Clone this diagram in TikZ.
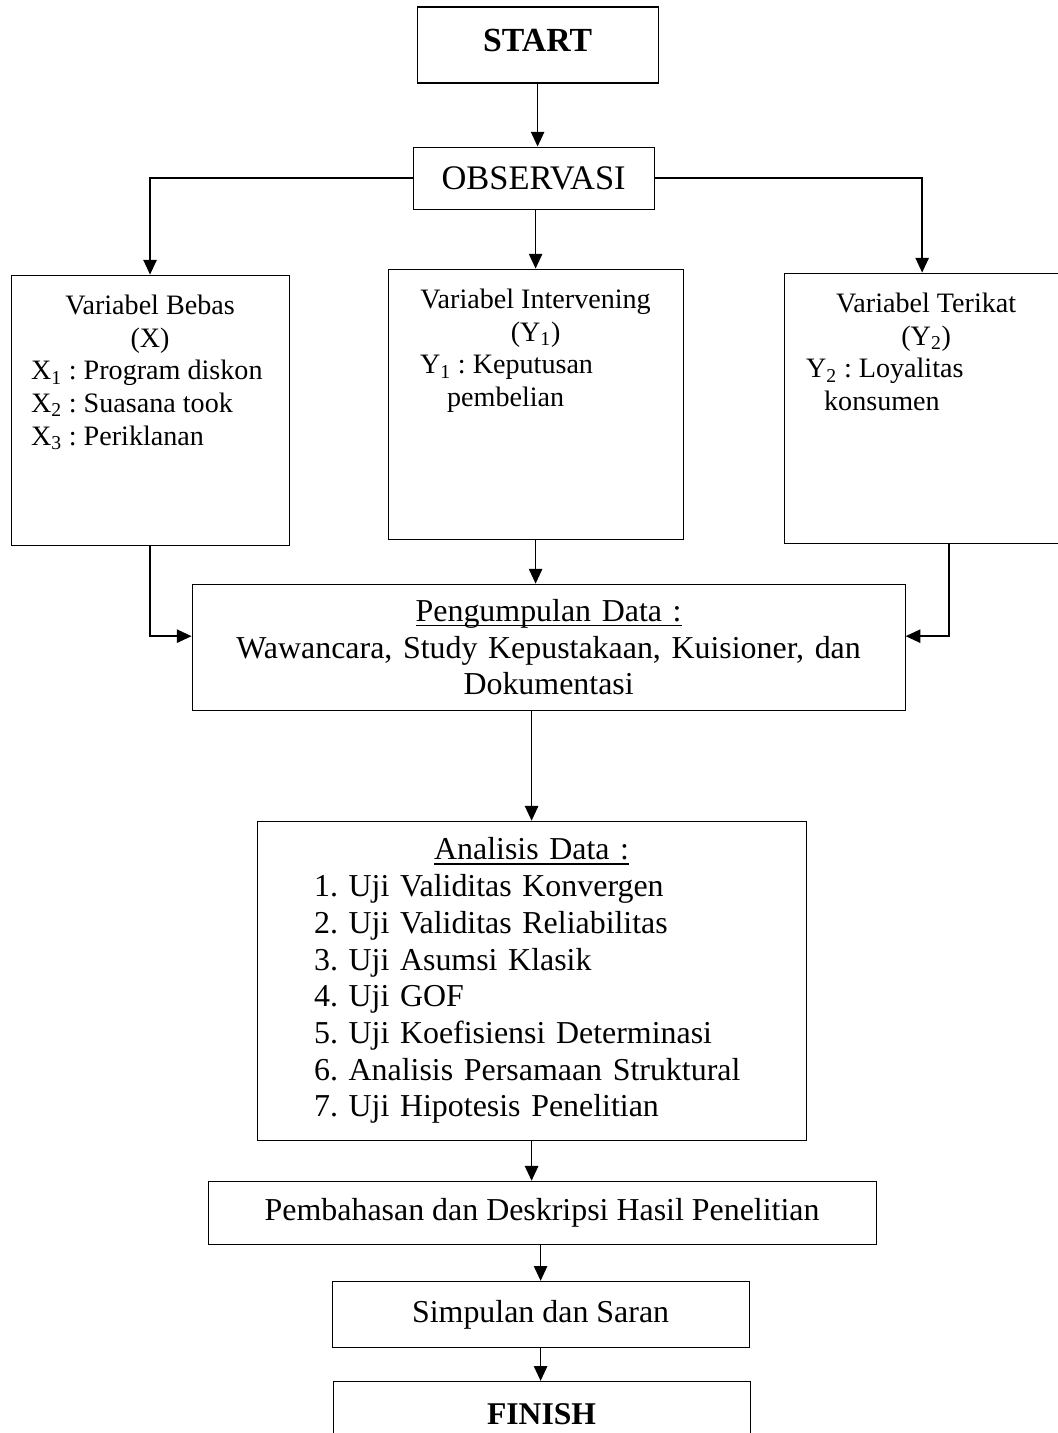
\documentclass[tikz,border=0pt]{standalone}
\usepackage{fontspec}
\setmainfont{Liberation Serif}
\usepackage{tikz}
\usetikzlibrary{arrows.meta, positioning}
\frenchspacing
\newcommand{\uln}[1]{\leavevmode\setbox0\hbox{#1}\rlap{\vrule width\wd0 height -2.3pt depth 3.3pt}\box0}
\tikzset{
  tbox/.style={
    rectangle, draw, line width=0.75pt,
    font=\bfseries\fontsize{24}{28}\selectfont,
    minimum width=6.025cm, minimum height=1.9cm, inner sep=0pt
  },
  obox/.style={
    rectangle, draw, line width=0.75pt,
    font=\fontsize{24.5}{28}\selectfont,
    minimum width=6.025cm, minimum height=1.55cm, inner sep=0pt
  },
  vbox/.style={
    rectangle, draw, line width=0.75pt,
    font=\fontsize{20}{23.2}\selectfont,
    inner xsep=0pt, inner ysep=0.5cm
  },
  pbox/.style={
    rectangle, draw, line width=0.75pt, align=center,
    font=\fontsize{22.7}{26.1}\selectfont, inner sep=0pt
  },
  arr/.style={-{Triangle[length=10.5pt, width=9.5pt]}, line width=1.1pt},
}
\begin{document}
\begin{tikzpicture}[node distance=1cm]
    \path[use as bounding box, clip] (0,0) rectangle (26.45,-35.825);

    \node[tbox, text depth=0.25cm] (start) at (13.44,-1.125) {START};
    \node[obox, below=1.575cm of start, xshift=-0.1cm] (obs) {OBSERVASI};

    \node[vbox, below=1.475cm of obs, xshift=0.05cm] (inter)
      {\parbox[t][5.75cm][t]{7.375cm}{\centering Variabel Intervening\\(Y\textsubscript{1})\par\raggedright
       \hspace*{0.8cm}Y\textsubscript{1} : Keputusan\\
       \hspace*{1.475cm}pembelian}};
    \node[vbox, left=2.45cm of inter, yshift=-0.15cm] (bebas)
      {\parbox[t][5.75cm][t]{6.95cm}{\centering Variabel Bebas\\(X)\par\raggedright
       \hspace*{0.5cm}X\textsubscript{1} : Program diskon\\
       \hspace*{0.5cm}X\textsubscript{2} : Suasana took\\
       \hspace*{0.5cm}X\textsubscript{3} : Periklanan}};
    \node[vbox, right=2.5cm of inter, yshift=-0.1cm] (terikat)
      {\parbox[t][5.75cm][t]{7.1cm}{\centering Variabel Terikat\\(Y\textsubscript{2})\par\raggedright
       \hspace*{0.55cm}Y\textsubscript{2} : Loyalitas\\
       \hspace*{1cm}konsumen}};

    \node[pbox, text width=17.825cm, minimum height=3.15cm, below=1.1cm of inter, xshift=0.325cm] (kumpul)
      {\uln{Pengumpulan Data :}\\Wawancara, Study Kepustakaan, Kuisioner, dan\\Dokumentasi};
    \node[pbox, align=left, text width=13.725cm, minimum height=7.975cm, below=2.75cm of kumpul, xshift=-0.425cm] (analisis)
      {{\centering\uln{Analisis Data :}\par}
       \hspace*{1.425cm}1. Uji Validitas Konvergen\\
       \hspace*{1.425cm}2. Uji Validitas Reliabilitas\\
       \hspace*{1.425cm}3. Uji Asumsi Klasik\\
       \hspace*{1.425cm}4. Uji GOF\\
       \hspace*{1.425cm}5. Uji Koefisiensi Determinasi\\
       \hspace*{1.425cm}6. Analisis Persamaan Struktural\\
       \hspace*{1.425cm}7. Uji Hipotesis Penelitian};
    \node[pbox, minimum width=16.7cm, minimum height=1.575cm, below=1cm of analisis, xshift=0.2625cm] (bahas)
      {Pembahasan dan Deskripsi Hasil Penelitian};
    \node[pbox, minimum width=10.425cm, minimum height=1.65cm, below=0.9cm of bahas, xshift=-0.0375cm] (simpulan)
      {Simpulan dan Saran};
    \node[tbox, font=\bfseries\fontsize{22.5}{26}\selectfont, text depth=0.35cm, minimum width=10.425cm, minimum height=2cm, below=0.825cm of simpulan, xshift=0.025cm] (finish)
      {FINISH};

    \draw[arr] (start.south) -- (start.south |- obs.north);
    \draw[arr] (obs.west) -| (bebas.north);
    \draw[arr] (obs.south -| inter.north) -- (inter.north);
    \draw[arr] (obs.east) -| ([xshift=-0.1cm]terikat.north);
    \draw[arr] (bebas.south) |- ([yshift=0.275cm]kumpul.west);
    \draw[arr] (inter.south) -- (inter.south |- kumpul.north);
    \draw[arr] ([xshift=0.575cm]terikat.south) |- ([yshift=0.275cm]kumpul.east);
    \draw[arr] (kumpul.south -| analisis.north) -- (analisis.north);
    \draw[arr] (analisis.south) -- (analisis.south |- bahas.north);
    \draw[arr] (simpulan.north |- bahas.south) -- (simpulan.north);
    \draw[arr] (simpulan.south) -- (simpulan.south |- finish.north);
  \end{tikzpicture}
\end{document}
